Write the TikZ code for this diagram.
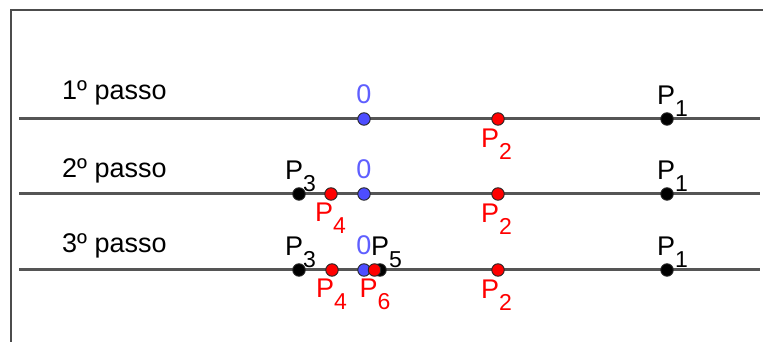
\documentclass[tikz,border=0pt]{standalone}
\usepackage{fontspec}
\setmainfont{Liberation Sans}
\usepackage{tikz}
\usetikzlibrary{positioning}
\definecolor{ggblue}{RGB}{77,77,255}
\definecolor{gglabel}{RGB}{95,95,255}
\definecolor{ggline}{RGB}{85,85,85}
\newcommand{\pname}[1]{P\raisebox{-12pt}{\fontsize{23}{23}\selectfont #1}}

\begin{document}
\begin{tikzpicture}[x=1pt, y=1pt,
    axis/.style={ggline, line width=3pt},
    dot/.style={circle, draw=black!85, line width=0.9pt, minimum size=12.5pt, inner sep=0pt},
    lbl/.style={font=\fontsize{27}{27}\selectfont, inner sep=0pt, anchor=base west}]
    \useasboundingbox (0,0) rectangle (763,342);
    % Frame
    \draw[gray!60!black, line width=1.4pt] (11,0) -- (11,332) -- (763,332);

    % Lines and step names
    \foreach \y/\b/\n in {223/242/1, 148/164/2, 72/89/3} {
        \draw[axis] (19,\y) -- (760,\y);
        \node[lbl] (passo\n) at (62,\b) {\n\textordmasculine\ passo};
    }

    % 1st step
    \node[dot, fill=ggblue] (O1) at (364,223) {};
    \node[dot, fill=red] (P2a) at (498,223) {};
    \node[dot, fill=black] (P1a) at (667,223) {};
    \node[lbl, anchor=base, text=gglabel] (l0a) at ([yshift=15]O1) {0};
    \node[lbl, text=red] (l2a) at ([shift={(-17,-29)}]P2a) {\pname{2}};
    \node[lbl] (l1a) at ([shift={(-10,14)}]P1a) {\pname{1}};

    % 2nd step
    \node[dot, fill=black] (P3b) at (299,148) {};
    \node[dot, fill=red] (P4b) at (331,148) {};
    \node[dot, fill=ggblue] (O2) at (364,148) {};
    \node[dot, fill=red] (P2b) at (498,148) {};
    \node[dot, fill=black] (P1b) at (667,148) {};
    \node[lbl] (l3b) at ([shift={(-14,14)}]P3b) {\pname{3}};
    \node[lbl, text=red] (l4b) at ([shift={(-16,-28)}]P4b) {\pname{4}};
    \node[lbl, anchor=base, text=gglabel] (l0b) at ([yshift=15]O2) {0};
    \node[lbl, text=red] (l2b) at ([shift={(-17,-29)}]P2b) {\pname{2}};
    \node[lbl] (l1b) at ([shift={(-10,14)}]P1b) {\pname{1}};

    % 3rd step
    \node[dot, fill=black] (P3c) at (299,72) {};
    \node[dot, fill=red] (P4c) at (332,72) {};
    \node[dot, fill=ggblue] (O3) at (364,72) {};
    \node[dot, fill=black] (P5c) at (380,72) {};
    \node[dot, fill=red] (P6c) at (374.5,72) {};
    \node[dot, fill=red] (P2c) at (498,72) {};
    \node[dot, fill=black] (P1c) at (667,72) {};
    \node[lbl] (l3c) at ([shift={(-14,14)}]P3c) {\pname{3}};
    \node[lbl, text=red] (l4c) at ([shift={(-16,-28)}]P4c) {\pname{4}};
    \node[lbl, anchor=base, text=gglabel] (l0c) at ([yshift=15]O3) {0};
    \node[lbl] (l5c) at ([shift={(-9,14)}]P5c) {\pname{5}};
    \node[lbl, text=red] (l6c) at ([shift={(-15,-28)}]P6c) {\pname{6}};
    \node[lbl, text=red] (l2c) at ([shift={(-17,-29)}]P2c) {\pname{2}};
    \node[lbl] (l1c) at ([shift={(-10,14)}]P1c) {\pname{1}};
\end{tikzpicture}
\end{document}
